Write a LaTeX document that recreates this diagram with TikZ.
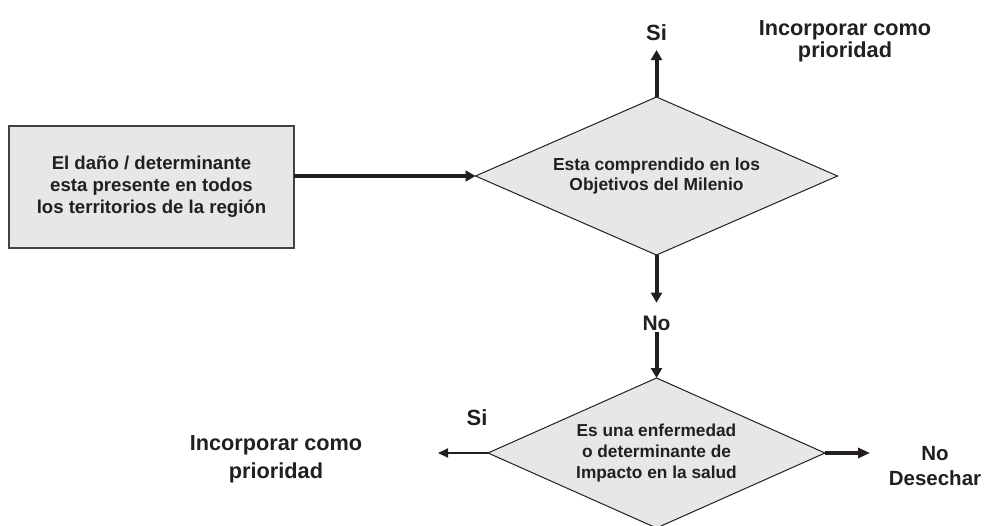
\documentclass[tikz,border=0pt]{standalone}
\usepackage{fontspec}
\setmainfont{Liberation Sans}
\usetikzlibrary{shapes.geometric,arrows.meta}
\definecolor{ink}{HTML}{231F20}
\definecolor{fillg}{HTML}{E6E7E8}
\begin{document}
\begin{tikzpicture}[x=1pt,y=-1pt,
  every node/.style={text=ink, outer sep=0pt},
  boxst/.style={rectangle, draw=ink!85, line width=1.4pt, fill=fillg,
    minimum width=285, minimum height=122, align=center, inner sep=0pt,
    font=\fontsize{18.6}{22}\selectfont\bfseries},
  dec/.style={diamond, draw=ink, line width=1pt, fill=fillg, inner sep=0pt, align=center},
  lbl/.style={inner sep=0pt, align=center, font=\fontsize{21}{22}\selectfont\bfseries},
  thickarr/.style={draw=ink, line width=4pt, -{Triangle[length=10pt,width=11pt]}},
  midarr/.style={draw=ink, line width=3.2pt, -{Triangle[length=12pt,width=10pt]}},
  thinarr/.style={draw=ink, line width=2pt, -{Triangle[length=10pt,width=9pt]}}
]
\useasboundingbox (0,0) rectangle (985,525);

% start box
\node[boxst] (box) at (151.5,187) {El daño / determinante\\esta presente en todos\\los territorios de la región};

% first decision
\node[dec, aspect=2.29, minimum width=362, minimum height=158,
  font=\fontsize{17.4}{20.5}\selectfont\bfseries] (d1) at (656.5,176)
  {Esta comprendido en los\\Objetivos del Milenio};

% second decision
\node[dec, aspect=2.23, minimum width=337, minimum height=150,
  font=\fontsize{17.3}{21}\selectfont\bfseries] (d2) at (656.5,453)
  {Es una enfermedad\\o determinante de\\Impacto en la salud};

% labels
\node[lbl, font=\fontsize{22}{22}\selectfont\bfseries] (si1) at (656.5,33) {Si};
\node[lbl, font=\fontsize{21.7}{22}\selectfont\bfseries] (inc1) at (845,41) {Incorporar como\\prioridad};
\node[lbl] (no1) at (656.5,323) {No};
\node[lbl, font=\fontsize{22}{22}\selectfont\bfseries] (si2) at (477,418) {Si};
\node[lbl, font=\fontsize{21.7}{28}\selectfont\bfseries] (inc2) at (276,459) {Incorporar como\\prioridad};
\node[lbl, font=\fontsize{20.5}{25}\selectfont\bfseries] (nodes) at (935,466) {No\\Desechar};

\coordinate (upTip) at (656.5,50);
\coordinate (leftTip) at (438,453);
\coordinate (rightTip) at (870,453);

% connectors
\draw[thickarr] (box.east |- d1.west) -- (d1.west);
\draw[thickarr] (d1.north) -- (upTip);
\draw[thickarr, shorten >=13pt] (d1.south) -- (no1.north);
\draw[thickarr, shorten <=2pt] (no1.south) -- (d2.north);
\draw[thinarr] (d2.west) -- (leftTip);
\draw[midarr] (d2.east) -- (rightTip);
\end{tikzpicture}
\end{document}
